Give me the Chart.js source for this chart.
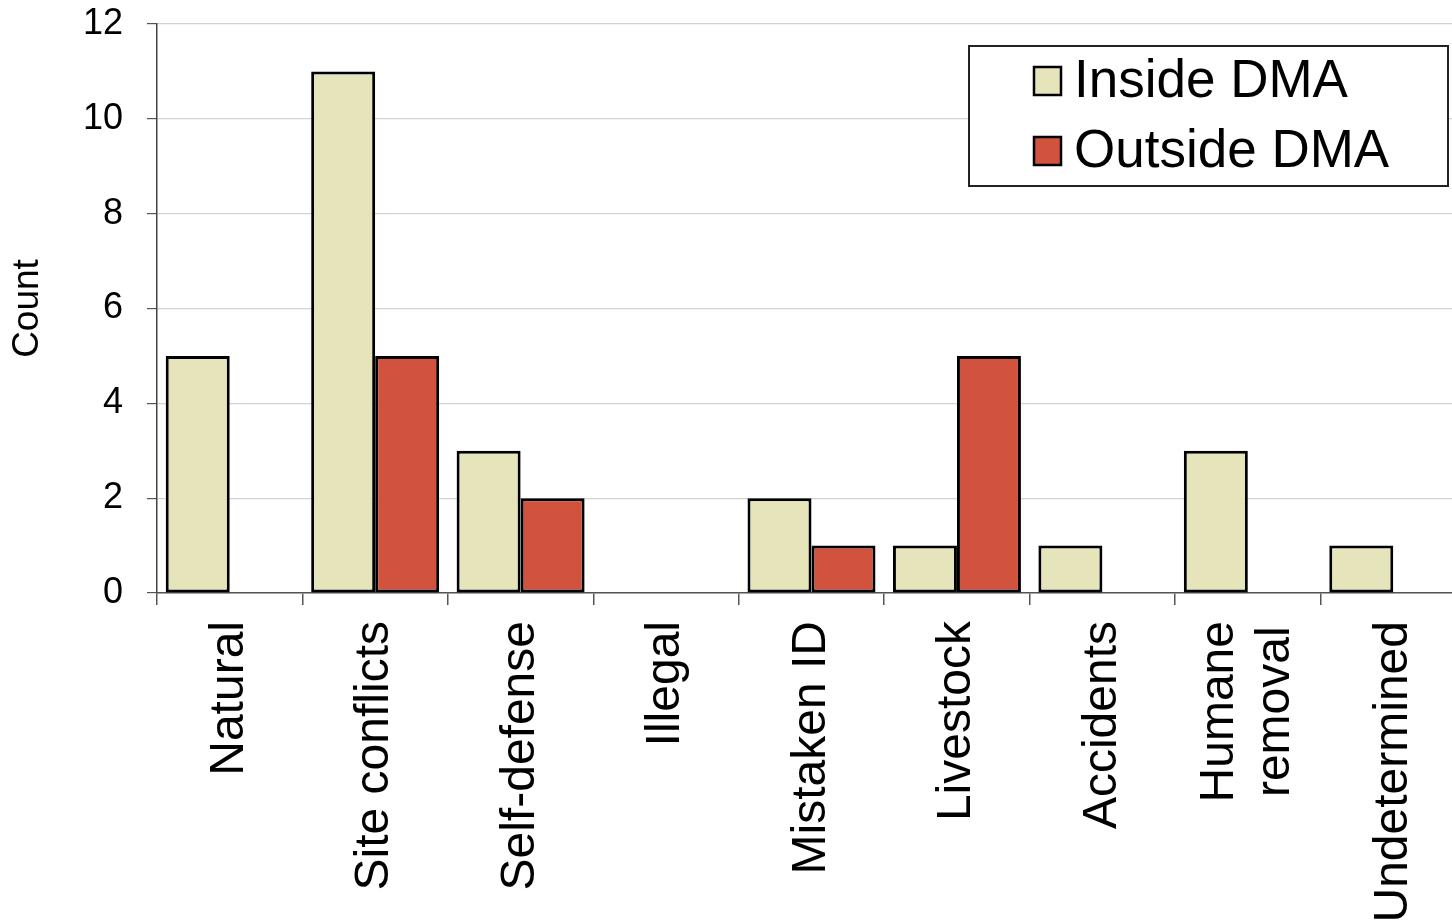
<!DOCTYPE html>
<html>
<head>
<meta charset="utf-8">
<script src="https://cdn.jsdelivr.net/npm/chart.js@4/dist/chart.umd.min.js"></script>
<style>
  html, body { margin: 0; padding: 0; background: #fff; overflow: hidden; }
  #wrap { position: relative; width: 1466px; height: 923px; }
</style>
</head>
<body>
<div id="wrap"><canvas id="c"></canvas></div>
<script>
// Mortality causes and counts, inside vs. outside the DMA
const categories = [
  'Natural', 'Site conflicts', 'Self-defense', 'Illegal', 'Mistaken ID',
  'Livestock', 'Accidents', ['Humane', 'removal'], 'Undetermined'
];
const insideDMA  = [5, 11, 3, 0, 2, 1, 1, 3, 1];
const outsideDMA = [0, 5, 2, 0, 1, 5, 0, 0, 0];
const seriesNames = ['Inside DMA', 'Outside DMA'];
const yTicks = [0, 2, 4, 6, 8, 10, 12];

const FONT = '"Liberation Sans", Arial, Helvetica, sans-serif';
const X_LABEL_SIZE = 48;
const X_LINE_HEIGHT = 1.17;

// Multi-line category labels: center the block of lines on the tick
// and center each line against the longest one.
const centerMultiLine = {
  id: 'centerMultiLine',
  beforeDraw(chart) {
    const scale = chart.scales.x;
    const items = scale.getLabelItems();
    const ctx = chart.ctx;
    items.forEach(item => {
      if (!Array.isArray(item.label) || item.label.length < 2 || item._centered) return;
      const n = item.label.length;
      const lh = item.font.lineHeight;
      ctx.save();
      ctx.font = item.font.string;
      const maxW = Math.max(...item.label.map(s => ctx.measureText(s).width));
      ctx.restore();
      item.options.translation[0] -= (n - 1) * lh / 2;
      item.options.translation[1] += maxW / 2;
      item.options.textAlign = 'center';
      item._centered = true;
    });
  }
};

// Boxed legend in the upper right of the plot
const boxedLegend = {
  id: 'boxedLegend',
  afterDraw(chart) {
    const ctx = chart.ctx;
    const x = 969, y = 46, w = 479, h = 140;
    ctx.save();
    ctx.fillStyle = '#fff';
    ctx.fillRect(x, y, w, h);
    ctx.lineWidth = 2;
    ctx.strokeStyle = '#222';
    ctx.strokeRect(x, y, w, h);
    ctx.font = '53px ' + FONT;
    ctx.textBaseline = 'middle';
    chart.data.datasets.forEach((ds, i) => {
      const cy = 81 + i * 70;
      ctx.fillStyle = ds.backgroundColor;
      ctx.fillRect(1034, cy - 14, 27, 28);
      ctx.lineWidth = 2.5;
      ctx.strokeStyle = '#000';
      ctx.strokeRect(1034, cy - 14, 27, 28);
      ctx.fillStyle = '#000';
      ctx.fillText(ds.label, 1074, cy + 1);
    });
    ctx.restore();
  }
};

new Chart(document.getElementById('c'), {
  type: 'bar',
  data: {
    labels: categories,
    datasets: [
      {
        label: seriesNames[0],
        data: insideDMA,
        backgroundColor: '#E6E4BA',
        borderColor: '#000',
        borderWidth: 3,
        borderSkipped: false
      },
      {
        label: seriesNames[1],
        data: outsideDMA,
        backgroundColor: '#D2533D',
        borderColor: '#000',
        borderWidth: 3,
        borderSkipped: false
      }
    ]
  },
  options: {
    responsive: true,
    maintainAspectRatio: false,
    animation: false,
    layout: { padding: { top: 24, right: 0, left: 0, bottom: 0 } },
    datasets: { bar: { categoryPercentage: 0.88, barPercentage: 1.0 } },
    plugins: {
      legend: { display: false },
      tooltip: { enabled: false }
    },
    scales: {
      x: {
        offset: true,
        grid: {
          offset: true,
          drawOnChartArea: false,
          drawTicks: true,
          tickLength: 12,
          tickColor: '#555',
          lineWidth: 1.5
        },
        border: { display: true, color: '#555', width: 1.5 },
        ticks: {
          minRotation: 90,
          maxRotation: 90,
          autoSkip: false,
          padding: 16,
          color: '#000',
          font: { family: FONT, size: X_LABEL_SIZE, lineHeight: X_LINE_HEIGHT }
        },
        afterFit(scale) { scale.height = 330; }
      },
      y: {
        min: 0,
        max: 12,
        afterBuildTicks(scale) { scale.ticks = yTicks.map(v => ({ value: v })); },
        grid: {
          color: '#d2d2d2',
          lineWidth: 1.2,
          drawTicks: true,
          tickLength: 10,
          tickColor: '#555'
        },
        border: { display: true, color: '#444', width: 1.5 },
        ticks: {
          padding: 24,
          color: '#000',
          font: { family: FONT, size: 36 }
        },
        title: {
          display: true,
          text: 'Count',
          color: '#000',
          font: { family: FONT, size: 37 },
          padding: { top: 6, bottom: 0 }
        },
        afterFit(scale) {
          scale.width = 157;
          scale.paddingTop = 0;
          scale.paddingBottom = 0;
        }
      }
    }
  },
  plugins: [centerMultiLine, boxedLegend]
});
</script>
</body>
</html>
